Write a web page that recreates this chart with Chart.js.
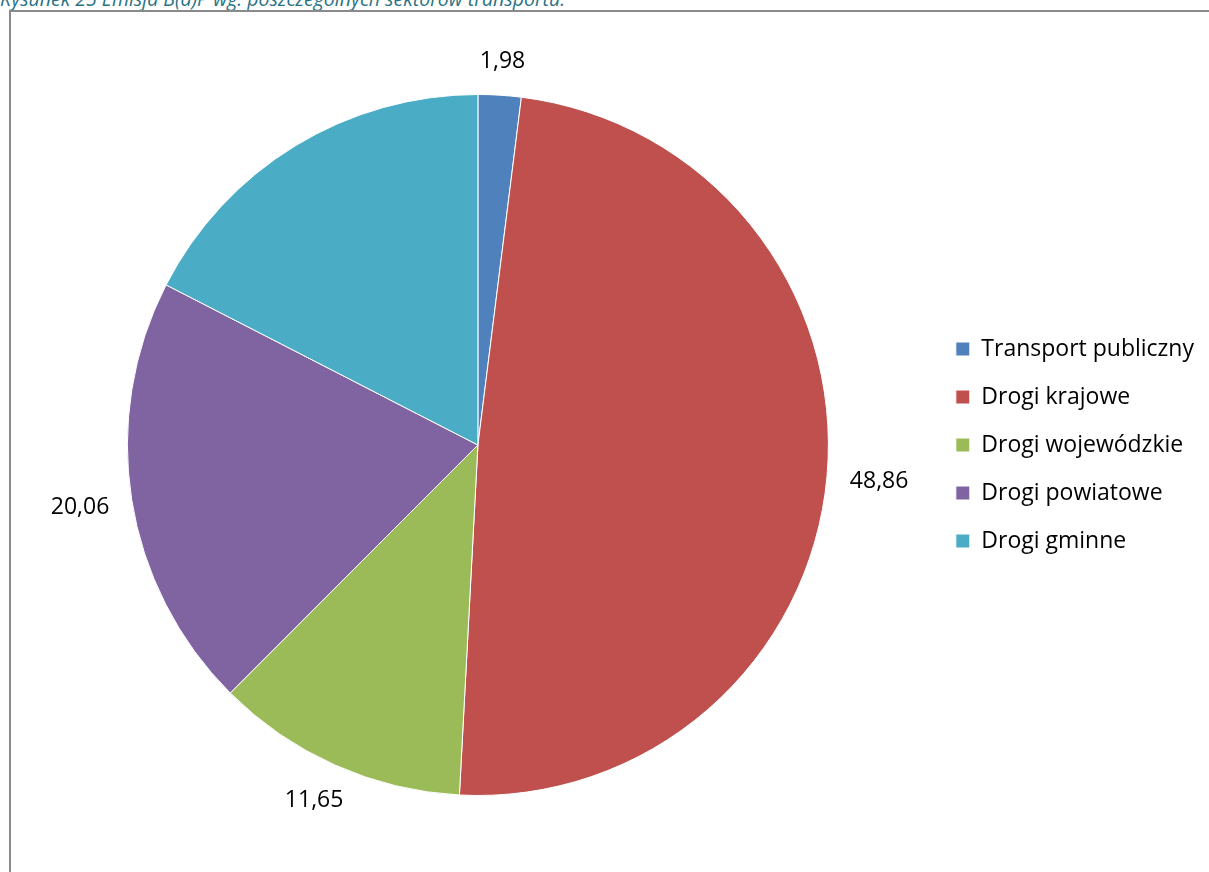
<!DOCTYPE html>
<html>
<head>
<meta charset="utf-8">
<script src="https://cdn.jsdelivr.net/npm/chart.js@4"></script>
<style>
  html, body { margin: 0; padding: 0; background: #fff; overflow: hidden; }
  #caption {
    position: absolute; left: 0; top: -15px;
    font: italic 19.5px "Open Sans", sans-serif; color: #2A7384; white-space: nowrap;
  }
  #frame {
    position: absolute; left: 9px; top: 10px; width: 1300px; height: 900px;
    border-left: 2px solid #8a8a8a; border-top: 2px solid #8a8a8a;
  }
  #wrap { position: absolute; left: 0; top: 0; width: 1209px; height: 872px; }
</style>
</head>
<body>
<div id="caption">Rysunek 25 Emisja B(a)P wg. poszczególnych sektorów transportu.</div>
<div id="frame"></div>
<div id="wrap"><canvas id="pieChart"></canvas></div>
<script>
const categories = ['Transport publiczny', 'Drogi krajowe', 'Drogi wojewódzkie', 'Drogi powiatowe', 'Drogi gminne'];
const shares = [1.98, 48.86, 11.65, 20.06, 17.45];
const showValue = [true, true, true, true, false];
const sliceColors = ['#4F81BD', '#C0504D', '#9BBB59', '#8064A2', '#4BACC6'];

// values printed just outside the rim, like Excel's "outside end" labels
const outsideLabels = {
    id: 'outsideLabels',
    afterDatasetsDraw(chart) {
        const ctx = chart.ctx;
        const meta = chart.getDatasetMeta(0);
        ctx.save();
        ctx.font = '23px "Open Sans", sans-serif';
        ctx.fillStyle = '#000';
        ctx.textAlign = 'center';
        ctx.textBaseline = 'middle';
        meta.data.forEach((arc, i) => {
            if (!showValue[i]) return;
            const p = arc.getProps(['x', 'y', 'startAngle', 'endAngle', 'outerRadius'], true);
            const mid = (p.startAngle + p.endAngle) / 2;
            const text = shares[i].toFixed(2).replace('.', ',');
            const w = ctx.measureText(text).width;
            const h = 26;
            const r = p.outerRadius + 23;
            const dx = Math.cos(mid), dy = Math.sin(mid);
            ctx.fillText(text, p.x + dx * (r + w / 2), p.y + dy * (r + h / 2) + 2);
        });
        ctx.restore();
    }
};

new Chart(document.getElementById('pieChart'), {
    type: 'pie',
    data: {
        labels: categories,
        datasets: [{
            data: shares,
            backgroundColor: sliceColors,
            borderColor: '#ffffff',
            borderWidth: 1
        }]
    },
    options: {
        responsive: true,
        maintainAspectRatio: false,
        animation: false,
        layout: { padding: { top: 94, bottom: 76, left: 25, right: 5 } },
        plugins: {
            legend: {
                position: 'right',
                labels: {
                    boxWidth: 14,
                    boxHeight: 14,
                    padding: 25,
                    color: '#000',
                    font: { family: '"Open Sans", sans-serif', size: 23 }
                }
            },
            tooltip: { enabled: false }
        }
    },
    plugins: [outsideLabels]
});
</script>
</body>
</html>
